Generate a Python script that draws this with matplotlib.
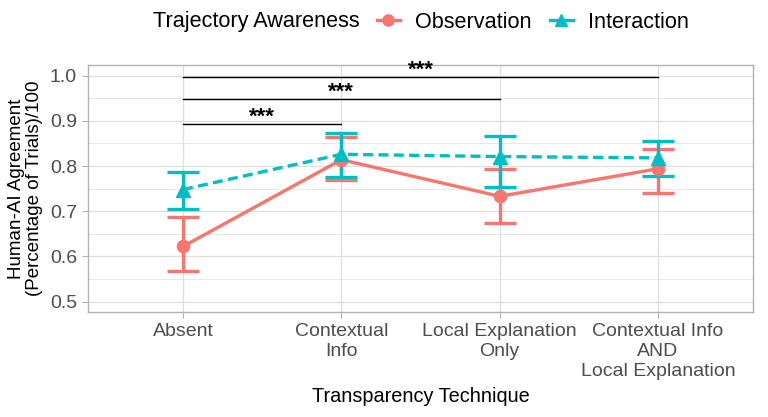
import matplotlib
matplotlib.use("Agg")
import matplotlib.pyplot as plt
from matplotlib.lines import Line2D
import numpy as np

plt.rcParams['font.family'] = ['Liberation Sans', 'DejaVu Sans']

categories = ["Absent", "Contextual\nInfo", "Local Explanation\nOnly",
              "Contextual Info\nAND\nLocal Explanation"]
obs_mean = [0.622, 0.814, 0.733, 0.794]
obs_low = [0.567, 0.770, 0.674, 0.741]
obs_high = [0.687, 0.865, 0.794, 0.838]
int_mean = [0.748, 0.826, 0.821, 0.818]
int_low = [0.706, 0.775, 0.753, 0.778]
int_high = [0.786, 0.874, 0.866, 0.855]

# significance brackets: (from index, to index, y)
sig_from = [0, 0, 0]
sig_to = [1, 2, 3]
sig_y = [0.892, 0.948, 0.9965]
sig_label = ["***", "***", "***"]

RED = "#F8766D"
TEAL = "#00BFC4"
GRID = "#DEDEDE"
BORDER = "#B3B3B3"

fig = plt.figure(figsize=(7.68, 4.17), dpi=100)
ax = fig.add_axes([88/768, 1-312/417, (753-88)/768, (312-65)/417])

x = np.arange(1, len(categories) + 1)

for mean, lo, hi, col, ls, mk, ms in [
        (obs_mean, obs_low, obs_high, RED, '-', 'o', 8.8),
        (int_mean, int_low, int_high, TEAL, (0, (3, 1.6)), '^', 10.5)]:
    mean = np.array(mean); lo = np.array(lo); hi = np.array(hi)
    ax.errorbar(x, mean, yerr=[mean - lo, hi - mean], fmt='none',
                ecolor=col, elinewidth=2.4, capsize=11.2, capthick=2.4, zorder=3)
    ax.plot(x, mean, color=col, linestyle=ls, linewidth=2.4, zorder=3)
    ax.plot(x, mean, color=col, linestyle='none', marker=mk, markersize=ms, zorder=4)

for a, b, yv, lab in zip(sig_from, sig_to, sig_y, sig_label):
    ax.plot([x[a], x[b]], [yv, yv], color='black', linewidth=1.0, zorder=5)
    ax.text((x[a] + x[b]) / 2, yv + 0.015, lab, ha='center', va='center',
            fontsize=16, fontweight='bold', color='black')

ax.set_xlim(0.4, 4.6)
ax.set_ylim(0.477, 1.0236)
ax.set_xticks(x)
ax.set_xticklabels(categories, fontsize=14, color='#4D4D4D', linespacing=1.24)
ax.set_yticks([0.5, 0.6, 0.7, 0.8, 0.9, 1.0])
ax.set_yticklabels(["0.5", "0.6", "0.7", "0.8", "0.9", "1.0"], fontsize=14, color='#4D4D4D')
ax.set_yticks([0.55, 0.65, 0.75, 0.85, 0.95], minor=True)
ax.grid(True, which='major', color=GRID, linewidth=0.9, zorder=0)
ax.grid(True, which='minor', axis='y', color=GRID, linewidth=0.5, zorder=0)
ax.set_axisbelow(True)
ax.tick_params(axis='both', which='major', color=BORDER, length=4, width=0.8, pad=4)
ax.tick_params(axis='both', which='minor', length=0)
for s in ax.spines.values():
    s.set_color(BORDER)
    s.set_linewidth(1.0)

ax.set_xlabel("Transparency Technique", fontsize=14.3, color='black', labelpad=5)
ax.set_ylabel("Human-AI Agreement\n(Percentage of Trials)/100", fontsize=13.5,
              color='black', labelpad=5, linespacing=1.1)

# legend (title placed to the left of the keys, ggplot style)
fig.text(153/768, 1-22/417, "Trajectory Awareness", fontsize=15.6, ha='left', va='center')
handles = [Line2D([], [], color=RED, linewidth=2.4, marker='o', markersize=8),
           Line2D([], [], color=TEAL, linewidth=2.4, marker='^', markersize=9)]
fig.legend(handles, ["Observation", "Interaction"], loc='center left',
           bbox_to_anchor=(377/768, 1-22/417), ncol=2, frameon=False,
           fontsize=15.6, handlelength=1.05, handletextpad=0.7, columnspacing=0.85,
           borderpad=0, borderaxespad=0)

fig.savefig("out.png", dpi=100)
